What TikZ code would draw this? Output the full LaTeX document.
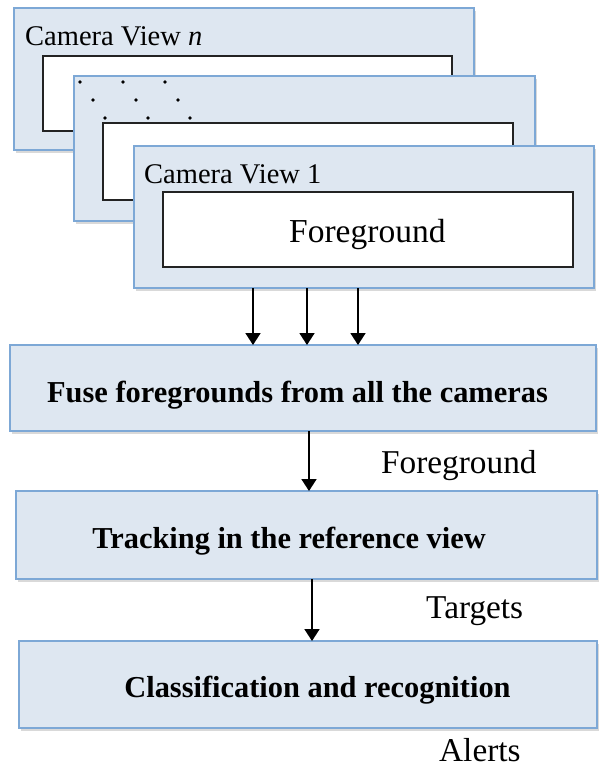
\documentclass[tikz,border=0pt]{standalone}
\usepackage{fontspec}
\setmainfont{Liberation Serif}
\usetikzlibrary{arrows.meta,shadows}
\definecolor{boxfill}{RGB}{222,231,241}
\definecolor{boxline}{RGB}{125,168,214}
\definecolor{inkline}{RGB}{35,35,35}
\begin{document}
\begin{tikzpicture}[x=1pt,y=-1pt,
  bluebox/.style={draw=boxline, fill=boxfill, line width=2pt, rectangle,
    anchor=north west, outer sep=0pt, inner sep=0pt,
    drop shadow={shadow xshift=1.5pt, shadow yshift=-2.5pt, opacity=0.3}},
  whitebox/.style={draw=inkline, fill=white, line width=2pt, rectangle,
    anchor=north west, outer sep=0pt, inner sep=0pt},
  camtxt/.style={anchor=base west, inner sep=0pt, font=\fontsize{28.5}{30}\selectfont},
  fgtxt/.style={anchor=base west, inner sep=0pt, font=\fontsize{33.5}{36}\selectfont},
  steptxt/.style={anchor=base, inner sep=0pt, font=\fontsize{30.4}{33}\selectfont\bfseries},
  lbl/.style={anchor=base west, inner sep=0pt, font=\fontsize{33.3}{36}\selectfont},
  arr/.style={draw=black, line width=1.8pt, -{Triangle[width=15pt,length=12pt]}},
  dot/.style={fill=black}]
\useasboundingbox (0,0) rectangle (598,769);

% camera view n
\node[bluebox, minimum width=460pt, minimum height=142pt] (camn) at (14,8) {};
\node[whitebox, minimum width=409pt, minimum height=75pt] (camnin) at (43,56) {};
\node[camtxt] (camntxt) at (25,45) {Camera View \textit{n}};

% middle camera view
\node[bluebox, minimum width=461pt, minimum height=145pt] (camm) at (74,76) {};
\node[whitebox, minimum width=410pt, minimum height=77pt] (cammin) at (103,123) {};
\foreach \px/\py in {80/82,123/82,165/82,93/100,136/100,178/100,105/118,148/118,190/118}
  \fill[dot] (\px,\py) circle (1.9pt);

% camera view 1
\node[bluebox, minimum width=460pt, minimum height=142pt] (cam1) at (134,146) {};
\node[whitebox, minimum width=410pt, minimum height=75pt] (cam1in) at (163,192) {};
\node[camtxt] (cam1txt) at (144,183) {Camera View 1};
\node[fgtxt] (fgin) at (289,242) {Foreground};

% processing steps
\node[bluebox, minimum width=586pt, minimum height=86pt] (fuse) at (10,345) {};
\node[steptxt] (fusetxt) at (297.5,402) {Fuse foregrounds from all the cameras};

\node[bluebox, minimum width=581pt, minimum height=88pt] (track) at (16,491) {};
\node[steptxt] (tracktxt) at (289,548) {Tracking in the reference view};

\node[bluebox, minimum width=578pt, minimum height=87pt] (class) at (19,641) {};
\node[steptxt] (classtxt) at (317.5,697) {Classification and recognition};

% labels
\node[lbl] (lfg) at (381,473) {Foreground};
\node[lbl] (ltg) at (426,618) {Targets};
\node[lbl] (lal) at (439,761) {Alerts};

% arrows
\coordinate (a1) at (253,0);
\coordinate (a2) at (307,0);
\coordinate (a3) at (358,0);
\coordinate (a4) at (309,0);
\coordinate (a5) at (312,0);
\draw[arr] (cam1.south -| a1) -- (fuse.north -| a1);
\draw[arr] (cam1.south -| a2) -- (fuse.north -| a2);
\draw[arr] (cam1.south -| a3) -- (fuse.north -| a3);
\draw[arr] (fuse.south -| a4) -- (track.north -| a4);
\draw[arr] (track.south -| a5) -- (class.north -| a5);
\end{tikzpicture}
\end{document}
